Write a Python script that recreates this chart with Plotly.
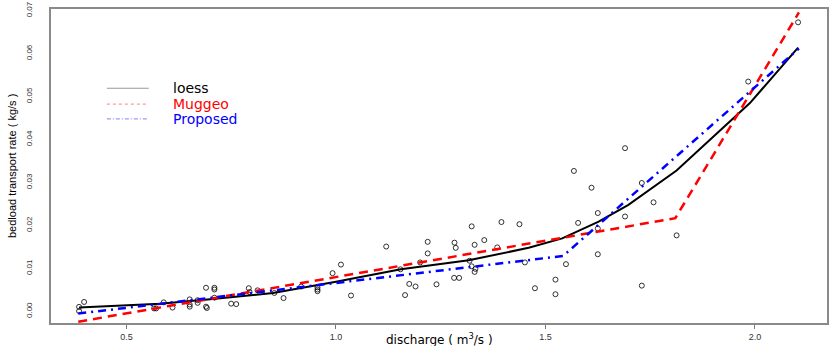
import plotly.graph_objects as go

# Observed data (discharge m3/s, bedload transport rate kg/s)
obs_x = [0.387, 0.387, 0.399, 0.566, 0.571, 0.589, 0.610, 0.651, 0.651, 0.651,
         0.670, 0.670, 0.690, 0.690, 0.692, 0.710, 0.710, 0.710, 0.750, 0.762,
         0.792, 0.794, 0.813, 0.853, 0.875, 0.917, 0.956, 0.956, 0.956, 0.992,
         1.012, 1.036, 1.120, 1.154, 1.175, 1.190, 1.165, 1.201, 1.219, 1.219,
         1.240, 1.282, 1.294, 1.283, 1.286, 1.324, 1.331, 1.319, 1.324, 1.333,
         1.331, 1.354, 1.395, 1.438, 1.385, 1.451, 1.475, 1.524, 1.524, 1.549,
         1.568, 1.610, 1.578, 1.625, 1.625, 1.625, 1.690, 1.690, 1.730, 1.758,
         1.813, 1.730, 1.984, 2.103]
obs_y = [0.00106, 0.00007, 0.0022, 0.0007, 0.0007, 0.0021, 0.0009, 0.0028, 0.0016, 0.0011,
         0.0026, 0.0020, 0.0055, 0.0011, 0.0008, 0.0055, 0.0051, 0.0032, 0.0018, 0.0017,
         0.0054, 0.0045, 0.0049, 0.0043, 0.0031, 0.0058, 0.0056, 0.0051, 0.0047, 0.0089,
         0.0109, 0.0037, 0.0151, 0.0098, 0.0064, 0.0058, 0.0038, 0.0114, 0.0162, 0.0135,
         0.0063, 0.0078, 0.0078, 0.0160, 0.0148, 0.0198, 0.0155, 0.0118, 0.0105, 0.0099,
         0.0092, 0.0166, 0.0208, 0.0203, 0.0149, 0.0114, 0.0054, 0.0074, 0.0040, 0.0110,
         0.0327, 0.0288, 0.0206, 0.0229, 0.0193, 0.0133, 0.0380, 0.0221, 0.0299, 0.0254,
         0.0177, 0.0060, 0.0535, 0.0673]

# loess fit
loess_x = [0.387, 0.58, 0.70, 0.85, 1.0, 1.155, 1.317, 1.46, 1.54, 1.579, 1.627,
           1.698, 1.813, 1.988, 2.103]
loess_y = [0.0009, 0.0018, 0.0028, 0.0043, 0.0069, 0.0098, 0.0119, 0.0148, 0.0170,
           0.0187, 0.0209, 0.0248, 0.0328, 0.0485, 0.0614]

# Muggeo segmented fit
muggeo_x = [0.385, 1.81, 2.105]
muggeo_y = [-0.0024, 0.0217, 0.0696]

# Proposed segmented fit
prop_x = [0.385, 1.542, 2.105]
prop_y = [-0.0005, 0.0129, 0.0612]

x_ticks = [0.5, 1.0, 1.5, 2.0]
y_ticks = [0.00, 0.01, 0.02, 0.03, 0.04, 0.05, 0.06, 0.07]

fig = go.Figure()
fig.add_trace(go.Scatter(x=obs_x, y=obs_y, mode="markers", name="observed",
                         marker=dict(symbol="circle-open", size=5, color="black",
                                     line=dict(width=0.8, color="black")),
                         showlegend=False))
fig.add_trace(go.Scatter(x=loess_x, y=loess_y, mode="lines", name="loess",
                         line=dict(color="black", width=2), showlegend=False))
fig.add_trace(go.Scatter(x=muggeo_x, y=muggeo_y, mode="lines", name="Muggeo",
                         line=dict(color="#ff0000", width=2.5, dash="9px,6px"),
                         showlegend=False))
fig.add_trace(go.Scatter(x=prop_x, y=prop_y, mode="lines", name="Proposed",
                         line=dict(color="#0000ff", width=2.5, dash="8px,5px,2px,5px"),
                         showlegend=False))

# Manual legend
W0, W1 = 51, 829
H0, H1 = 6, 323
def px(xp):
    return (xp - W0) / (W1 - W0)
def py(yp):
    return (H1 - yp) / (H1 - H0)

legend_items = [("loess", "black", "#999999", "solid", 86),
                ("Muggeo", "#ff0000", "#ff9999", "3px,3px", 102),
                ("Proposed", "#0000ff", "#9999ff", "4px,2px,1px,2px", 117)]
for name, tcol, lcol, dash, yy in legend_items:
    fig.add_shape(type="line", xref="paper", yref="paper",
                  x0=px(107), x1=px(149), y0=py(yy), y1=py(yy),
                  line=dict(color=lcol, width=1.2, dash=dash))
    fig.add_annotation(xref="paper", yref="paper", x=px(171), y=py(yy),
                       text=name, showarrow=False, xanchor="left", yanchor="middle",
                       font=dict(family="DejaVu Sans", size=14, color=tcol))

# Axis titles
fig.add_annotation(xref="paper", yref="paper", x=0.5, y=0, yshift=-16,
                   text="discharge ( m<sup>3</sup>/s )", showarrow=False,
                   xanchor="center", yanchor="middle",
                   font=dict(family="DejaVu Sans", size=12, color="black"))
fig.add_annotation(xref="paper", yref="paper", x=0, xshift=-39, y=0.5,
                   text="bedload transport rate ( kg/s )", showarrow=False,
                   textangle=-90, xanchor="center", yanchor="middle",
                   font=dict(family="Liberation Sans", size=11, color="black"))

fig.update_layout(
    width=830, height=346,
    margin=dict(l=51, r=1, t=6, b=23),
    paper_bgcolor="white", plot_bgcolor="white",
    xaxis=dict(range=[0.32, 2.172], tickvals=x_ticks, tickformat=".1f",
               showgrid=False, zeroline=False, showline=True, mirror=True,
               linecolor="#8a8a8a", linewidth=1.5,
               ticks="outside", ticklen=4, tickcolor="#777777", tickwidth=1,
               tickfont=dict(family="Liberation Sans", size=9, color="#333333")),
    yaxis=dict(range=[-0.0027, 0.0704], tickvals=y_ticks, tickformat=".2f",
               showgrid=False, zeroline=False, showline=True, mirror=True,
               linecolor="#8a8a8a", linewidth=1.5,
               ticks="", tickangle=-90, ticklabelstandoff=14,
               ticklabeloverflow="allow",
               tickfont=dict(family="Liberation Sans Narrow, Liberation Sans", size=8, color="#333333")),
)

fig.write_html("out.html", config={"displayModeBar": False},
               post_script="document.body.style.margin='0px';document.body.style.padding='0px';")
